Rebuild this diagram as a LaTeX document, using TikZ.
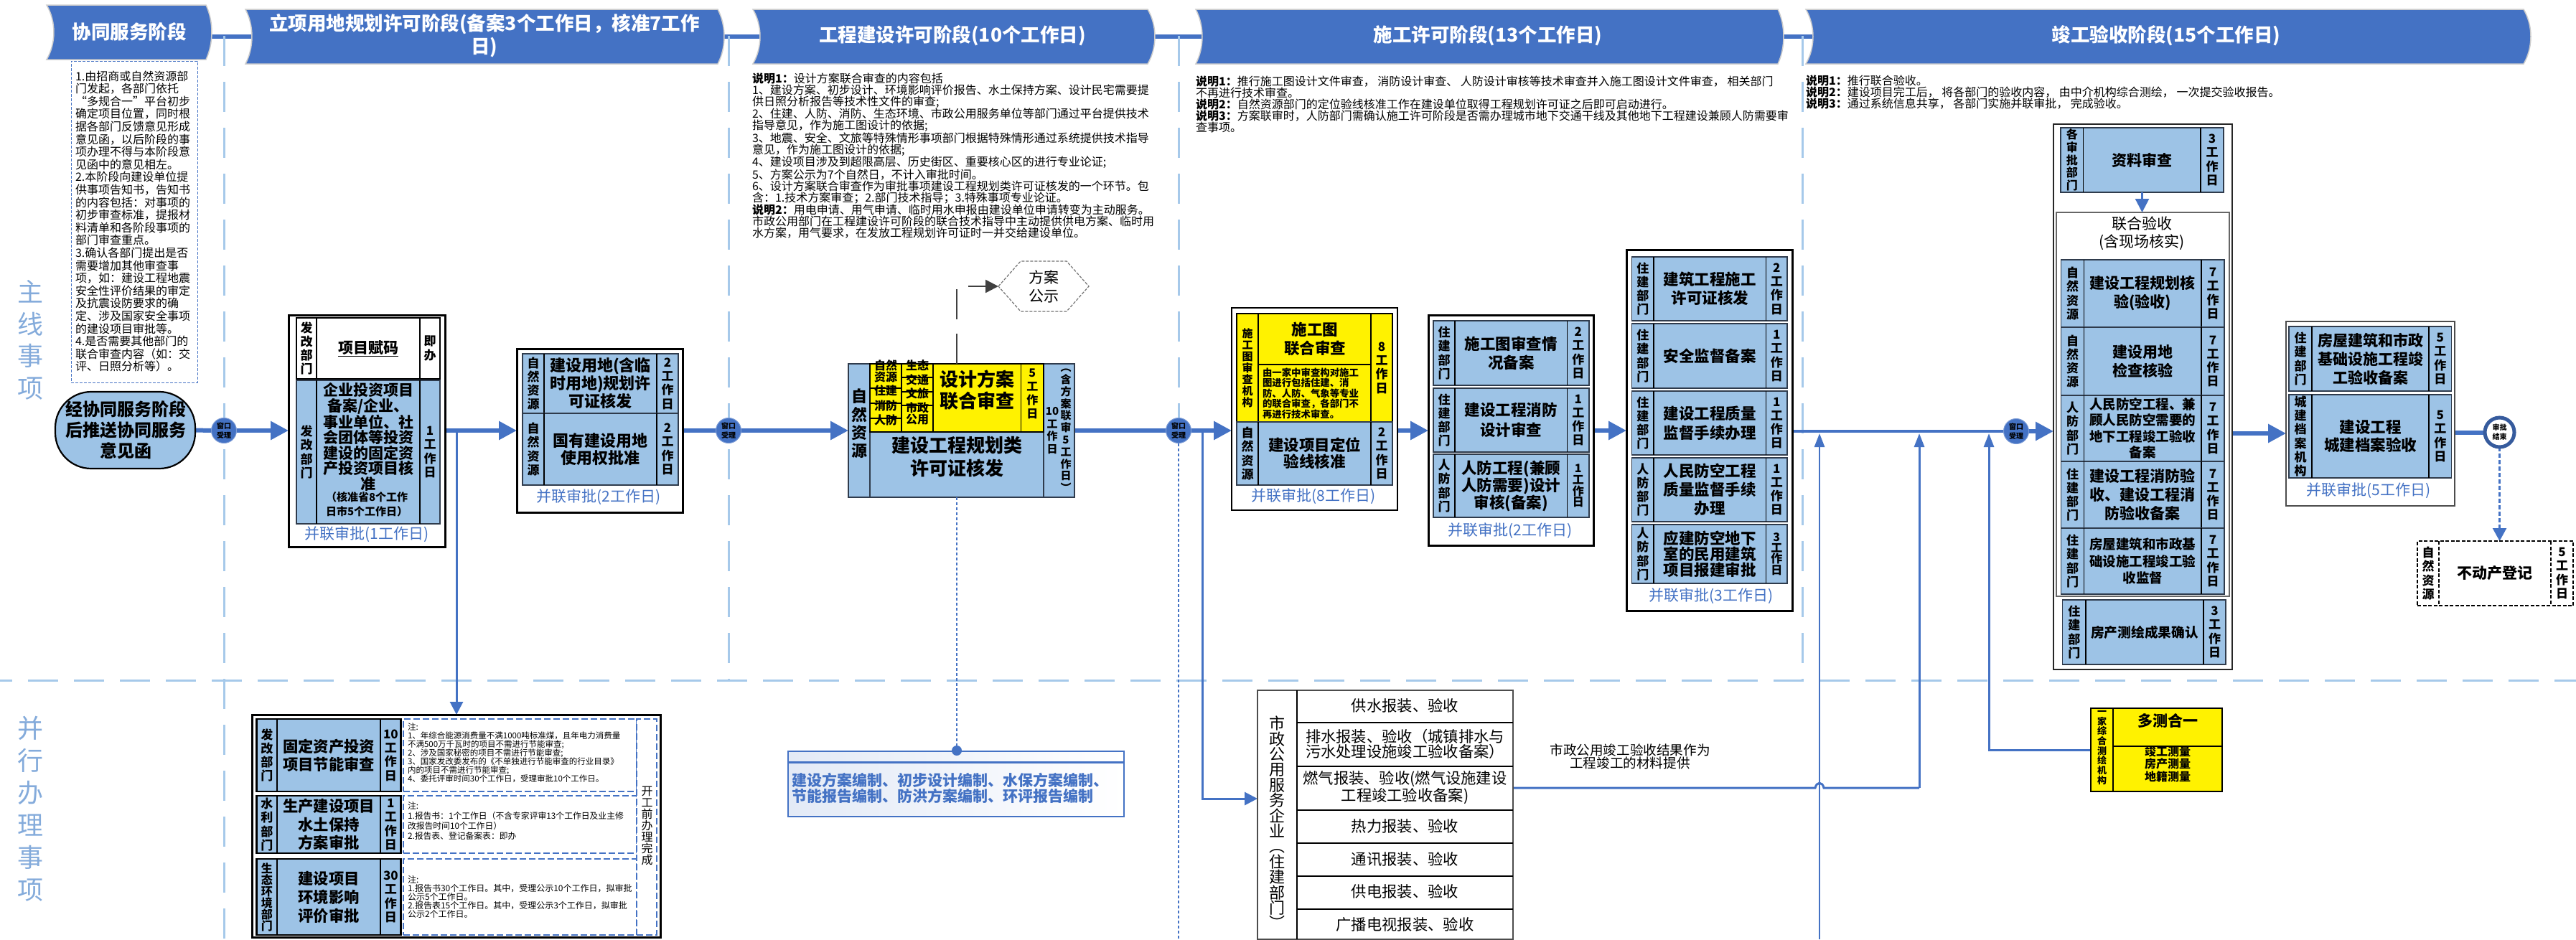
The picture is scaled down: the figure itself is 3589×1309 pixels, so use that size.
\documentclass[tikz,border=0pt]{standalone}
\usepackage{fontspec}
\setmainfont{Noto Sans CJK SC}
\usetikzlibrary{arrows.meta,backgrounds,fit}
\definecolor{mb}{HTML}{4472C4}
\definecolor{lb}{HTML}{9DC3E6}
\definecolor{sepc}{HTML}{A6C9EA}
\definecolor{sidec}{HTML}{84ABDB}
\definecolor{linec}{HTML}{2F3B4C}
\newcommand\fz[2]{\fontsize{#1}{#2}\selectfont}
\newcommand\setcols[4]{\def\colA{#1}\def\colB{#2}\def\colC{#3}\def\colD{#4}}
\def\dfont{\fz{17}{19.3}}
\def\tfont{\fz{17}{19.3}}
\def\stZJ{住\\建\\部\\门}
\def\stRF{人\\防\\部\\门}
\def\stZR{自\\然\\资\\源}
\newcommand\stGZ[1]{#1\\工\\作\\日}
\tikzset{
 tx/.style={inner sep=0pt,outer sep=0pt,align=center,text=black},
 txl/.style={inner sep=0pt,outer sep=0pt,align=left,text=black,anchor=west},
 lab/.style={inner sep=0pt,outer sep=0pt,align=center,text=mb,font=\fz{21}{24}},
 rowblue/.style={inner sep=0pt,outer sep=0pt,draw=linec,line width=1.8pt,fill=lb,align=center},
 rowwhite/.style={inner sep=0pt,outer sep=0pt,draw=black,line width=1.8pt,fill=white,align=center},
 rowblack/.style={inner sep=0pt,outer sep=0pt,draw=black,line width=2.6pt,fill=lb,align=center},
 rowdash/.style={inner sep=0pt,outer sep=0pt,draw=black,line width=1.8pt,dash pattern=on 5pt off 2.5pt,fill=white,align=center},
 ycell/.style={inner sep=0pt,outer sep=0pt,draw=black,line width=1.5pt,fill=yellow,align=center},
 tline/.style={draw=black,line width=1.3pt},
 outerbox/.style={inner sep=0pt,outer sep=0pt,draw=black,line width=3pt,fill=white},
 thinbox/.style={inner sep=0pt,outer sep=0pt,draw=black!85,line width=1.6pt,fill=white},
 dnote/.style={inner sep=0pt,outer sep=0pt,draw=mb,line width=1.5pt,dash pattern=on 9pt off 4pt,fill=white},
 bluebox/.style={inner sep=0pt,outer sep=0pt,draw=mb,line width=2.5pt,left color=mb!15,right color=white},
 hdrst/.style={fill=mb,draw=black!20,line width=1.5pt},
 hdrtext/.style={inner sep=0pt,outer sep=0pt,align=center,text=white,font=\bfseries\fz{26.5}{32}},
 circ/.style={circle,inner sep=0pt,outer sep=0pt,minimum size=35pt,fill=mb,draw=mb!70,line width=1pt,align=center,text=black,font=\bfseries\fz{10}{13}},
 hbar/.style={draw=mb,line width=6pt},
 lsep/.style={draw=sepc,line width=3pt,dash pattern=on 42pt off 22pt},
 bar/.style={draw=mb,line width=6pt},
 barfour/.style={draw=mb,line width=4pt},
 bigarrow/.style={draw=mb,line width=6pt,-{Triangle[length=25pt,width=25pt]}},
 thinarrow/.style={draw=mb,line width=3pt,-{Triangle[length=18pt,width=18pt]}},
 thinline/.style={draw=mb,line width=3pt},
 uparrow/.style={draw=mb,line width=2.6pt,-{Triangle[length=19pt,width=14pt]}},
 medarrow/.style={draw=mb,line width=2.5pt,-{Triangle[length=19pt,width=19pt]}},
 dotline/.style={draw=mb,line width=2.5pt,dash pattern=on 4pt off 3pt},
 dasharrow/.style={draw=mb,line width=2.5pt,dash pattern=on 6pt off 3pt,-{Triangle[length=18pt,width=19pt]}},
 hexline/.style={draw=black!55,line width=1.2pt,dash pattern=on 4pt off 2pt,fill=white},
}
% optional style, name, y0, y1, main size, main spacing, main text, department stack, days stack
\newcommand\trow[9][rowblue]{%
  \node[#1,fit={(\colA,#3)(\colD,#4)}] (#2) {};
  \draw[tline] (\colB,#3) -- (\colB,#4) (\colC,#3) -- (\colC,#4);
  \node[tx,font={\bfseries\dfont}] (#2-d) at ({(\colA+\colB)/2},{(#3+#4)/2}) {#8};
  \node[tx,font={\bfseries\fz{#5}{#6}}] (#2-m) at ({(\colB+\colC)/2},{(#3+#4)/2}) {#7};
  \node[tx,font={\bfseries\tfont}] (#2-t) at ({(\colC+\colD)/2},{(#3+#4)/2}) {#9};
}
% name, xl, xl-mid, xr, xr-mid, y0, y1
\newcommand\hdr[7]{%
  \draw[hdrst] (#2,#6) -- (#4,#6) .. controls ({#4+(#5-#4)*1.33},{#6+(#7-#6)*0.3}) and ({#4+(#5-#4)*1.33},{#6+(#7-#6)*0.7}) .. (#4,#7) -- (#2,#7) .. controls ({#2+(#3-#2)*1.33},{#6+(#7-#6)*0.7}) and ({#2+(#3-#2)*1.33},{#6+(#7-#6)*0.3}) .. (#2,#6) -- cycle;
  \coordinate (#1w) at (#3,50.5);
  \coordinate (#1e) at (#5,50.5);
}
\begin{document}
\begin{tikzpicture}[x=1pt,y=-1pt]
\useasboundingbox (0,0) rectangle (3589,1309);
% headers
\hdr{h1}{65}{75}{287}{295}{7}{83}
\node[hdrtext] (h1t) at (180,44) {协同服务阶段};
\hdr{h2}{342}{351}{1000}{1009}{13}{89}
\node[hdrtext] (h2t) at (675,50) {立项用地规划许可阶段(备案3个工作日，核准7工作\\日)};
\hdr{h3}{1049}{1059}{1599}{1609}{13}{89}
\node[hdrtext] (h3t) at (1327,50) {工程建设许可阶段(10个工作日)};
\hdr{h4}{1666}{1675}{2477}{2485}{13}{89}
\node[hdrtext] (h4t) at (2073,50) {施工许可阶段(13个工作日)};
\hdr{h5}{2516}{2526}{3516}{3526}{13}{89}
\node[hdrtext] (h5t) at (3018,50) {竣工验收阶段(15个工作日)};
% side labels
\node[tx,text=sidec,font=\fz{36}{44.7}] (side1) at (42,474) {主\\线\\事\\项};
\node[tx,text=sidec,font=\fz{36}{45}] (side2) at (42,1127) {并\\行\\办\\理\\事\\项};
% note boxes
\node[dnote,line width=1pt,dash pattern=on 4pt off 2pt,fit={(99,85)(275,533)}] (n1box) {};
\node[txl,font=\fz{16}{17.6}] (n1) at (105,308.5) {1.由招商或自然资源部\\门发起，各部门依托\\“多规合一”平台初步\\确定项目位置，同时根\\据各部门反馈意见形成\\意见函，以后阶段的事\\项办理不得与本阶段意\\见函中的意见相左。\\2.本阶段向建设单位提\\供事项告知书，告知书\\的内容包括：对事项的\\初步审查标准，提报材\\料清单和各阶段事项的\\部门审查重点。\\3.确认各部门提出是否\\需要增加其他审查事\\项，如：建设工程地震\\安全性评价结果的审定\\及抗震设防要求的确\\定、涉及国家安全事项\\的建设项目审批等。\\4.是否需要其他部门的\\联合审查内容（如：交\\评、日照分析等）。};
\node[txl,font=\fz{16}{16}] (n3) at (1048,217) {{\bfseries 说明1：}设计方案联合审查的内容包括\\1、建设方案、初步设计、环境影响评价报告、水土保持方案、设计民宅需要提\\供日照分析报告等技术性文件的审查;\\2、住建、人防、消防、生态环境、市政公用服务单位等部门通过平台提供技术\\指导意见，作为施工图设计的依据;\\3、地震、安全、文旅等特殊情形事项部门根据特殊情形通过系统提供技术指导\\意见，作为施工图设计的依据;\\4、建设项目涉及到超限高层、历史街区、重要核心区的进行专业论证;\\5、方案公示为7个自然日，不计入审批时间。\\6、设计方案联合审查作为审批事项建设工程规划类许可证核发的一个环节。包\\含：1.技术方案审查；2.部门技术指导；3.特殊事项专业论证。\\{\bfseries 说明2：}用电申请、用气申请、临时用水申报由建设单位申请转变为主动服务。\\市政公用部门在工程建设许可阶段的联合技术指导中主动提供供电方案、临时用\\水方案，用气要求，在发放工程规划许可证时一并交给建设单位。};
\node[txl,font=\fz{16}{16}] (n4) at (1666,145) {{\bfseries 说明1：}推行施工图设计文件审查， 消防设计审查、 人防设计审核等技术审查并入施工图设计文件审查， 相关部门\\不再进行技术审查。\\{\bfseries 说明2：}自然资源部门的定位验线核准工作在建设单位取得工程规划许可证之后即可启动进行。\\{\bfseries 说明3：}方案联审时，人防部门需确认施工许可阶段是否需办理城市地下交通干线及其他地下工程建设兼顾人防需要审\\查事项。};
\node[txl,font=\fz{16}{16}] (n5) at (2516,129) {{\bfseries 说明1：}推行联合验收。\\{\bfseries 说明2：}建设项目完工后， 将各部门的验收内容， 由中介机构综合测绘， 一次提交验收报告。\\{\bfseries 说明3：}通过系统信息共享， 各部门实施并联审批， 完成验收。};
% start node
\node[rowblack,draw=black,line width=2.2pt,rounded corners=50pt,fit={(77,546)(272,653)}] (stad) {};
\node[tx,font={\bfseries\fz{24}{29}}] (stadt) at (175,599) {经协同服务阶段\\后推送协同服务\\意见函};
% window circles
\node[circ] (c1) at (312,600) {窗口\\受理};
\node[circ] (c2) at (1015,600) {窗口\\受理};
\node[circ] (c3) at (1642,600) {窗口\\受理};
\node[circ] (c4) at (2809,601) {窗口\\受理};
% block 1
\node[outerbox,fit={(402,439)(620,762)}] (b1) {};
\setcols{413}{441}{585}{613}
\begin{scope}[tline/.style={draw=black,line width=1.2pt}]
\trow[rowwhite]{b1a}{443}{528}{21}{24}{\underline{项目赋码}}{发\\改\\部\\门}{即\\办}
\end{scope}
\trow{b1b}{530}{730}{21}{21.5}{}{发\\改\\部\\门}{\stGZ{1}}
\node[tx,font={\bfseries\fz{21}{21.5}}] (b1main) at (513,609) {企业投资项目\\备案/企业、\\事业单位、社\\会团体等投资\\建设的固定资\\产投资项目核\\准};
\node[txl,font={\bfseries\fz{15}{20}}] (b1sub) at (454,703) {（核准省8个工作\\日市5个工作日）};
\node[lab] (b1l) at (511,745) {并联审批(1工作日)};
% block 2
\node[outerbox,fit={(720,486)(951,714)}] (b2) {};
\setcols{728}{758}{915}{945}
\trow{b2a}{493}{576}{22}{25}{建设用地(含临\\时用地)规划许\\可证核发}{\stZR}{\stGZ{2}}
\trow{b2b}{576}{676}{22}{23.5}{国有建设用地\\使用权批准}{\stZR}{\stGZ{2}}
\node[lab] (b2l) at (834,693) {并联审批(2工作日)};
% block 3
\node[rowblue,fit={(1182,507)(1497,693)}] (b3) {};
\node[rowblue,fit={(1182,507)(1212,693)},font={\bfseries\fz{22}{25.3}}] (b3d) {\stZR};
\node[rowblue,fit={(1212,602)(1454,693)},font={\bfseries\fz{26}{32}}] (b3m) {建设工程规划类\\许可证核发};
\node[rowblue,fit={(1454,507)(1497,693)}] (b3r) {};
\node[tx,font={\bfseries\fz{15}{17.7}}] (b3t1) at (1466,600) {\stGZ{10}};
\node[tx,font={\bfseries\fz{15}{16.8}}] (b3t2) at (1485,600) {︵\\含\\方\\案\\联\\审\\5\\工\\作\\日\\︶};
\node[ycell,fit={(1212,507)(1256,541)},font={\bfseries\fz{16}{14}}] (ya1) {自然\\资源};
\node[ycell,fit={(1212,541)(1256,562)},font={\bfseries\fz{16}{18}}] (ya2) {住建};
\node[ycell,fit={(1212,562)(1256,583)},font={\bfseries\fz{16}{18}}] (ya3) {消防};
\node[ycell,fit={(1212,583)(1256,602)},font={\bfseries\fz{16}{18}}] (ya4) {人防};
\node[ycell,fit={(1256,507)(1300,526)},font={\bfseries\fz{16}{18}}] (yb1) {生态};
\node[ycell,fit={(1256,526)(1300,546)},font={\bfseries\fz{16}{18}}] (yb2) {交通};
\node[ycell,fit={(1256,546)(1300,565)},font={\bfseries\fz{16}{18}}] (yb3) {文旅};
\node[ycell,fit={(1256,565)(1300,602)},font={\bfseries\fz{16}{16}}] (yb4) {市政\\公用};
\node[ycell,fit={(1300,507)(1422.5,602)},font={\bfseries\fz{26}{30}}] (ym) {设计方案\\联合审查};
\node[ycell,fit={(1422.5,507)(1454,602)},font={\bfseries\fz{16}{19}}] (yt) {\stGZ{5}};
% hexagon
\draw[hexline] (1391,399) -- (1422,364) -- (1486,364) -- (1517,399) -- (1486,434) -- (1422,434) -- cycle;
\node[tx,font=\fz{21}{26}] (hex) at (1454,399) {方案\\公示};
\coordinate (hexw) at (1391,399);
\coordinate (b3up) at (1333,507);
\coordinate (b3dn) at (1333,693);
% plan box
\node[bluebox,fit={(1098,1047)(1566,1062)}] (planb) {};
\node[bluebox,fit={(1098,1063)(1566,1138)}] (plan) {};
\node[txl,text=mb,font={\bfseries\fz{21}{22}}] (plant) at (1103,1098) {建设方案编制、初步设计编制、水保方案编制、\\节能报告编制、防洪方案编制、环评报告编制};
\node[circle,fill=mb,inner sep=0pt,minimum size=14pt] (dot3) at (1333,1046) {};
% block 4
\node[outerbox,line width=2.5pt,fit={(1716,429)(1947,711)}] (b4) {};
\setcols{1723}{1753}{1910}{1940}
\def\dfont{\fz{15}{16}}
\trow[ycell]{b4a}{437}{588}{21}{26}{}{施\\工\\图\\审\\查\\机\\构}{\stGZ{8}}
\def\dfont{\fz{17}{19.3}}
\draw[tline] (1753,508) -- (1910,508);
\node[tx,font={\bfseries\fz{21.5}{26}}] (b4t) at (1832,472) {施工图\\联合审查};
\node[txl,font={\bfseries\fz{13.4}{14.5}}] (b4s) at (1759,548) {由一家中审查构对施工\\图进行包括住建、消\\防、人防、气象等专业\\的联合审查，各部门不\\再进行技术审查。};
\trow{b4b}{588}{676}{21.5}{23}{建设项目定位\\验线核准}{\stZR}{\stGZ{2}}
\node[lab] (b4l) at (1830,692) {并联审批(8工作日)};
% block 5
\node[outerbox,fit={(1990,439)(2220,760)}] (b5) {};
\setcols{1997}{2027}{2183.5}{2214}
\trow{b5a}{447}{537}{21.5}{26}{施工图审查情\\况备案}{\stZJ}{\stGZ{2}}
\trow{b5b}{541}{630}{21.5}{28}{建设工程消防\\设计审查}{\stZJ}{\stGZ{1}}
\def\tfont{\fz{16}{15.7}}
\trow{b5c}{633}{721}{21.5}{22.5}{人防工程(兼顾\\人防需要)设计\\审核(备案)}{\stRF}{\stGZ{1}}
\def\tfont{\fz{17}{19.3}}
\node[lab] (b5l) at (2104,740) {并联审批(2工作日)};
% block 6
\node[outerbox,fit={(2266,348)(2497,851)}] (b6) {};
\setcols{2273.5}{2304}{2460.5}{2490}
\trow{b6a}{358}{447}{21.5}{26}{建筑工程施工\\许可证核发}{\stZJ}{\stGZ{2}}
\trow{b6b}{451}{541}{21.5}{26}{安全监督备案}{\stZJ}{\stGZ{1}}
\trow{b6c}{545}{634}{21.5}{27}{建设工程质量\\监督手续办理}{\stZJ}{\stGZ{1}}
\trow{b6d}{638}{727}{21.5}{26}{人民防空工程\\质量监督手续\\办理}{\stRF}{\stGZ{1}}
\def\tfont{\fz{16}{15.4}}
\trow{b6e}{731}{813}{21.5}{22}{应建防空地下\\室的民用建筑\\项目报建审批}{\stRF}{\stGZ{3}}
\def\tfont{\fz{17}{19.3}}
\node[lab] (b6l) at (2384,831) {并联审批(3工作日)};
% block 7
\node[thinbox,fit={(2861,173)(3110,933)}] (b7) {};
\setcols{2871}{2902.5}{3066}{3098}
\def\dfont{\fz{16}{17.7}}
\trow{b7a}{178}{268}{21}{26}{资料审查}{各\\审\\批\\部\\门}{\stGZ{3}}
\def\dfont{\fz{17}{19.3}}
\node[thinbox,draw=black!60,line width=2pt,fit={(2864.5,296)(3106,831)}] (b7in) {};
\node[tx,font=\fz{21}{25}] (b7it) at (2984,325.5) {联合验收\\(含现场核实)};
\setcols{2871.5}{2903.5}{3067}{3099}
\trow{b7b}{362}{456}{21}{26}{建设工程规划核\\验(验收)}{\stZR}{\stGZ{7}}
\trow{b7c}{456}{551}{21}{26}{建设用地\\检查核验}{\stZR}{\stGZ{7}}
\trow{b7d}{551}{643}{18.5}{22.3}{人民防空工程、兼\\顾人民防空需要的\\地下工程竣工验收\\备案}{\stRF}{\stGZ{7}}
\trow{b7e}{643}{736}{21}{26}{建设工程消防验\\收、建设工程消\\防验收备案}{\stZJ}{\stGZ{7}}
\trow{b7f}{736}{828}{18.5}{23.5}{房屋建筑和市政基\\础设施工程竣工验\\收监督}{\stZJ}{\stGZ{7}}
\setcols{2873.5}{2906}{3070}{3101}
\trow{b7g}{836}{926}{18.7}{24}{房产测绘成果确认}{\stZJ}{\stGZ{3}}
% block 8
\node[thinbox,draw=black!70,line width=2pt,fit={(3185,448)(3420,705)}] (b8) {};
\setcols{3189}{3221}{3384}{3415.5}
\trow{b8a}{455}{545}{21}{26}{房屋建筑和市政\\基础设施工程竣\\工验收备案}{\stZJ}{\stGZ{5}}
\trow{b8b}{550}{666}{21.5}{25}{建设工程\\城建档案验收}{城\\建\\档\\案\\机\\构}{\stGZ{5}}
\node[lab] (b8l) at (3300,684) {并联审批(5工作日)};
% end circle
\node[circle,inner sep=0pt,outer sep=0pt,minimum size=41pt,draw=mb!80!black,line width=5pt,fill=white,align=center,font={\bfseries\fz{10}{13}}] (e1) at (3482.5,602.5) {审批\\结束};
% real-estate box
\begin{scope}[tline/.style={draw=black,line width=1.5pt,dash pattern=on 5pt off 2.5pt}]
\setcols{3368}{3398}{3554}{3585}
\trow[rowdash]{bdc}{754}{844}{21}{26}{不动产登记}{\stZR}{\stGZ{5}}
\end{scope}
% surveying box
\node[ycell,fit={(2913,987)(2944,1103)},font={\bfseries\fz{13}{13.7}}] (dc1) {一\\家\\综\\合\\测\\绘\\机\\构};
\node[ycell,fit={(2944,987)(3096,1040)},font={\bfseries\fz{21}{25}}] (dc2) {多测合一};
\node[ycell,fit={(2944,1040)(3096,1103)},font={\bfseries\fz{16}{17.5}}] (dc3) {竣工测量\\房产测量\\地籍测量};
% municipal table
\node[thinbox,draw=black!70,fit={(1752,962)(2108,1309)}] (sz) {};
\draw[tline] (1807,962) -- (1807,1309);
\draw[tline,line width=2.2pt] (1807,1007) -- (2108,1007) (1807,1068) -- (2108,1068) (1807,1129) -- (2108,1129) (1807,1175) -- (2108,1175) (1807,1221) -- (2108,1221) (1807,1267) -- (2108,1267);
\node[tx,font=\fz{22}{21.4}] (szd) at (1779,1146.5) {市\\政\\公\\用\\服\\务\\企\\业\\︵\\住\\建\\部\\门\\︶};
\node[tx,font=\fz{21.3}{24}] (sz1) at (1957.5,983) {供水报装、验收};
\node[tx,font=\fz{21.3}{21}] (sz2) at (1957.5,1036.5) {排水报装、验收（城镇排水与\\污水处理设施竣工验收备案）};
\node[tx,font=\fz{21.3}{21}] (sz3) at (1957.5,1097.5) {燃气报装、验收(燃气设施建设\\工程竣工验收备案)};
\node[tx,font=\fz{21.3}{24}] (sz4) at (1957.5,1151) {热力报装、验收};
\node[tx,font=\fz{21.3}{24}] (sz5) at (1957.5,1197) {通讯报装、验收};
\node[tx,font=\fz{21.3}{24}] (sz6) at (1957.5,1242) {供电报装、验收};
\node[tx,font=\fz{21.3}{24}] (sz7) at (1957.5,1288) {广播电视报装、验收};
\node[tx,font=\fz{18.6}{18}] (sznote) at (2271,1054) {市政公用竣工验收结果作为\\工程竣工的材料提供};
% energy / water / environment block
\node[outerbox,fit={(351,996)(920,1306)}] (jn) {};
\setcols{357.6}{386}{530}{558.7}
\begin{scope}[tline/.style={draw=black,line width=2.2pt}]
\trow[rowblack]{jn1}{1002}{1103}{21.3}{25}{固定资产投资\\项目节能审查}{发\\改\\部\\门}{\stGZ{10}}
\trow[rowblack]{jn2}{1109}{1189}{21.3}{25.5}{生产建设项目\\水土保持\\方案审批}{水\\利\\部\\门}{\stGZ{1}}
\def\dfont{\fz{16}{16}}
\trow[rowblack]{jn3}{1197}{1303}{21.3}{26}{建设项目\\环境影响\\评价审批}{生\\态\\环\\境\\部\\门}{\stGZ{30}}
\def\dfont{\fz{17}{19.3}}
\end{scope}
\node[dnote,fit={(562,1002)(887,1103)}] (jn1n) {};
\node[dnote,fit={(562,1109)(887,1189)}] (jn2n) {};
\node[dnote,fit={(562,1197)(887,1303)}] (jn3n) {};
\node[dnote,fit={(887,1002)(915,1303)}] (jnk) {};
\node[tx,font=\fz{16}{16}] (jnkt) at (901.5,1151) {开\\工\\前\\办\\理\\完\\成};
\node[txl,font=\fz{11.5}{12}] (jn1t) at (568,1049) {注:\\1、年综合能源消费量不满1000吨标准煤，且年电力消费量\\不满500万千瓦时的项目不需进行节能审查;\\2、涉及国家秘密的项目不需进行节能审查;\\3、国家发改委发布的《不单独进行节能审查的行业目录》\\内的项目不需进行节能审查;\\4、委托评审时间30个工作日，受理审批10个工作日。};
\node[txl,font=\fz{11.8}{14.3}] (jn2t) at (568,1144) {注:\\1.报告书：1个工作日（不含专家评审13个工作日及业主修\\改报告时间10个工作日）\\2.报告表、登记备案表：即办};
\node[txl,font=\fz{12}{12}] (jn3t) at (568,1250) {注:\\1.报告书30个工作日。其中，受理公示10个工作日，拟审批\\公示5个工作日。\\2.报告表15个工作日。其中，受理公示3个工作日，拟审批\\公示2个工作日。};
% connectors over boxes
\draw[medarrow] (b7a.south) -- (b7a.south |- b7in.north);
\draw[draw=black!75,line width=2.5pt,dash pattern=on 42pt off 20pt,-{Triangle[length=18pt,width=18pt]}] (b3up) |- (hexw);
\draw[dotline] (b3dn) -- (dot3);
% connectors below boxes
\coordinate (sA) at (312,50); \coordinate (sAb) at (312,1309);
\coordinate (sB) at (1015,50); \coordinate (sBb) at (1015,948);
\coordinate (sC) at (1642,50);
\coordinate (sD) at (2511,50); \coordinate (sDb) at (2511,948);
\coordinate (hL) at (0,948); \coordinate (hR) at (3589,948);
\coordinate (brA) at (636,600);
\coordinate (brB) at (1675,600);
\coordinate (brBy) at (1675,1113);
\coordinate (dotEnd) at (1642,1309);
\coordinate (upA) at (2535,1309);
\coordinate (upAt) at (2535,604);
\coordinate (upBt) at (2674,604);
\coordinate (upB) at (2674,1098);
\coordinate (upCt) at (2771,604);
\coordinate (upC) at (2771,1045);
\coordinate (b7out) at (3110,604);
\begin{scope}[on background layer]
\fill[white] (0,0) rectangle (3589,1309);
\draw[hbar] (h1e) -- (h2w);
\draw[hbar] (h2e) -- (h3w);
\draw[hbar] (h3e) -- (h4w);
\draw[hbar] (h4e) -- (h5w);
\draw[lsep] (sA) -- (sAb);
\draw[lsep] (sB) -- (sBb);
\draw[lsep] (sC) -- (c3.north);
\draw[lsep] (sD) -- (sDb);
\draw[lsep,dash phase=25pt] (hL) -- (hR);
\draw[dotline] (c3.south) -- (dotEnd);
\draw[bar] (stad.east) -- (c1.west);
\draw[bigarrow] (c1.east) -- (c1.east -| b1.west);
\draw[bigarrow] (c1.east -| b1.east) -- (c1.east -| b2.west);
\draw[bar] (c2 -| b2.east) -- (c2.west);
\draw[bigarrow] (c2.east) -- (c2.east -| b3.west);
\draw[bar] (c3 -| b3.east) -- (c3.west);
\draw[bigarrow] (c3.east) -- (c3.east -| b4.west);
\draw[bigarrow] (c3 -| b4.east) -- (c3 -| b5.west);
\draw[bigarrow] (c3 -| b5.east) -- (c3 -| b6.west);
\draw[barfour] (c4 -| b6.east) -- (c4.west);
\draw[bigarrow] (c4.east) -- (c4.east -| b7.west);
\draw[bigarrow] (b7out) -- (b7out -| b8.west);
\draw[bar] (e1 -| b8.east) -- (e1.west);
\draw[dasharrow] (e1.south) -- (e1.south |- bdc.north);
\draw[thinarrow] (brA) -- (brA |- jn.north);
\draw[thinarrow] (brB) |- (sz.west |- brBy);
\draw[uparrow] (upA) -- (upAt);
\draw[thinline] (upB -| sz.east) -- (2529,1098) .. controls (2531,1089) and (2539,1089) .. (2541,1098) -- (upB);
\draw[uparrow,line width=3pt] (upB) -- (upBt);
\draw[uparrow,line width=3pt] (dc1.west |- upC) -- (upC) -- (upCt);
\end{scope}
\end{tikzpicture}
\end{document}
